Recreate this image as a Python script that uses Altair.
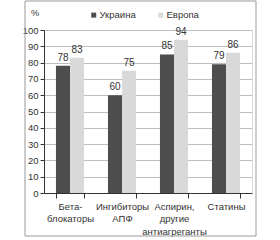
import altair as alt
import pandas as pd

categories = ["Бета-|блокаторы", "Ингибиторы|АПФ", "Аспирин,|другие|антиагреганты", "Статины"]
series = ["Украина", "Европа"]
ukraine = [78, 60, 85, 79]
europe = [83, 75, 94, 86]
colors = ["#4d4d4d", "#d9d9d9"]

rows = []
for c, u, e in zip(categories, ukraine, europe):
    rows.append({"cat": c, "series": "Украина", "value": u})
    rows.append({"cat": c, "series": "Европа", "value": e})
df = pd.DataFrame(rows)

FONT = "Liberation Sans"

xaxis = alt.Axis(labelAngle=0, labelExpr="split(datum.label, '|')",
                 tickBand="extent", domainColor="#333", tickColor="#333",
                 tickSize=5, labelColor="#333", labelFontSize=9.5,
                 labelFont=FONT, labelPadding=3, labelLineHeight=12.5,
                 grid=False)
xscale = alt.Scale(paddingInner=0.46, paddingOuter=0.23)
xo = alt.XOffset("series:N", sort=series, scale=alt.Scale(paddingInner=0, paddingOuter=0))

yaxis = alt.Axis(values=list(range(0, 101, 10)), domainColor="#333",
                 tickColor="#333", tickSize=4, labelColor="#333",
                 labelFontSize=9.5, labelFont=FONT, gridColor="#bdbdbd",
                 labelPadding=2, labelOverlap=False, grid=True)
yscale = alt.Scale(domain=[0, 100], nice=False)

bars = alt.Chart(df).mark_bar(stroke=None).encode(
    x=alt.X("cat:N", sort=categories, title=None, scale=xscale, axis=xaxis),
    xOffset=xo,
    y=alt.Y("value:Q", title=None, scale=yscale, axis=yaxis),
    color=alt.Color("series:N", sort=series,
                    scale=alt.Scale(domain=series, range=colors),
                    legend=alt.Legend(title=None, orient="none", legendX=45, legendY=-20,
                                      direction="horizontal", symbolType="square",
                                      symbolSize=25, symbolStrokeWidth=0,
                                      labelFontSize=9.5, labelFont=FONT, labelColor="#333",
                                      columnPadding=20, labelOffset=1)),
)

labels = alt.Chart(df).mark_text(dy=-8, fontSize=10, font=FONT, color="#333").encode(
    x=alt.X("cat:N", sort=categories, title=None, scale=xscale, axis=xaxis),
    xOffset=xo,
    y=alt.Y("value:Q", title=None, scale=yscale, axis=yaxis),
    text="value:Q",
)

one = alt.Data(values=[{"a": 1}])

pct = alt.Chart(one).mark_text(font=FONT, fontSize=9, color="#333").encode(
    x=alt.value(-9), y=alt.value(-17), text=alt.value("%"))

frame = alt.Chart(one).mark_rect(fill=None, stroke="#999", strokeWidth=1).encode(
    x=alt.value(-19), x2=alt.value(212), y=alt.value(-29), y2=alt.value(206))

chart = alt.layer(bars, labels, pct, frame).properties(
    width=208, height=163,
    autosize=alt.AutoSizeParams(type="none"),
    padding={"left": 44, "top": 30, "right": 28, "bottom": 47},
).configure_view(stroke=None).configure(background="white")

chart.save("out.html", embed_options={"renderer": "svg", "actions": False})
